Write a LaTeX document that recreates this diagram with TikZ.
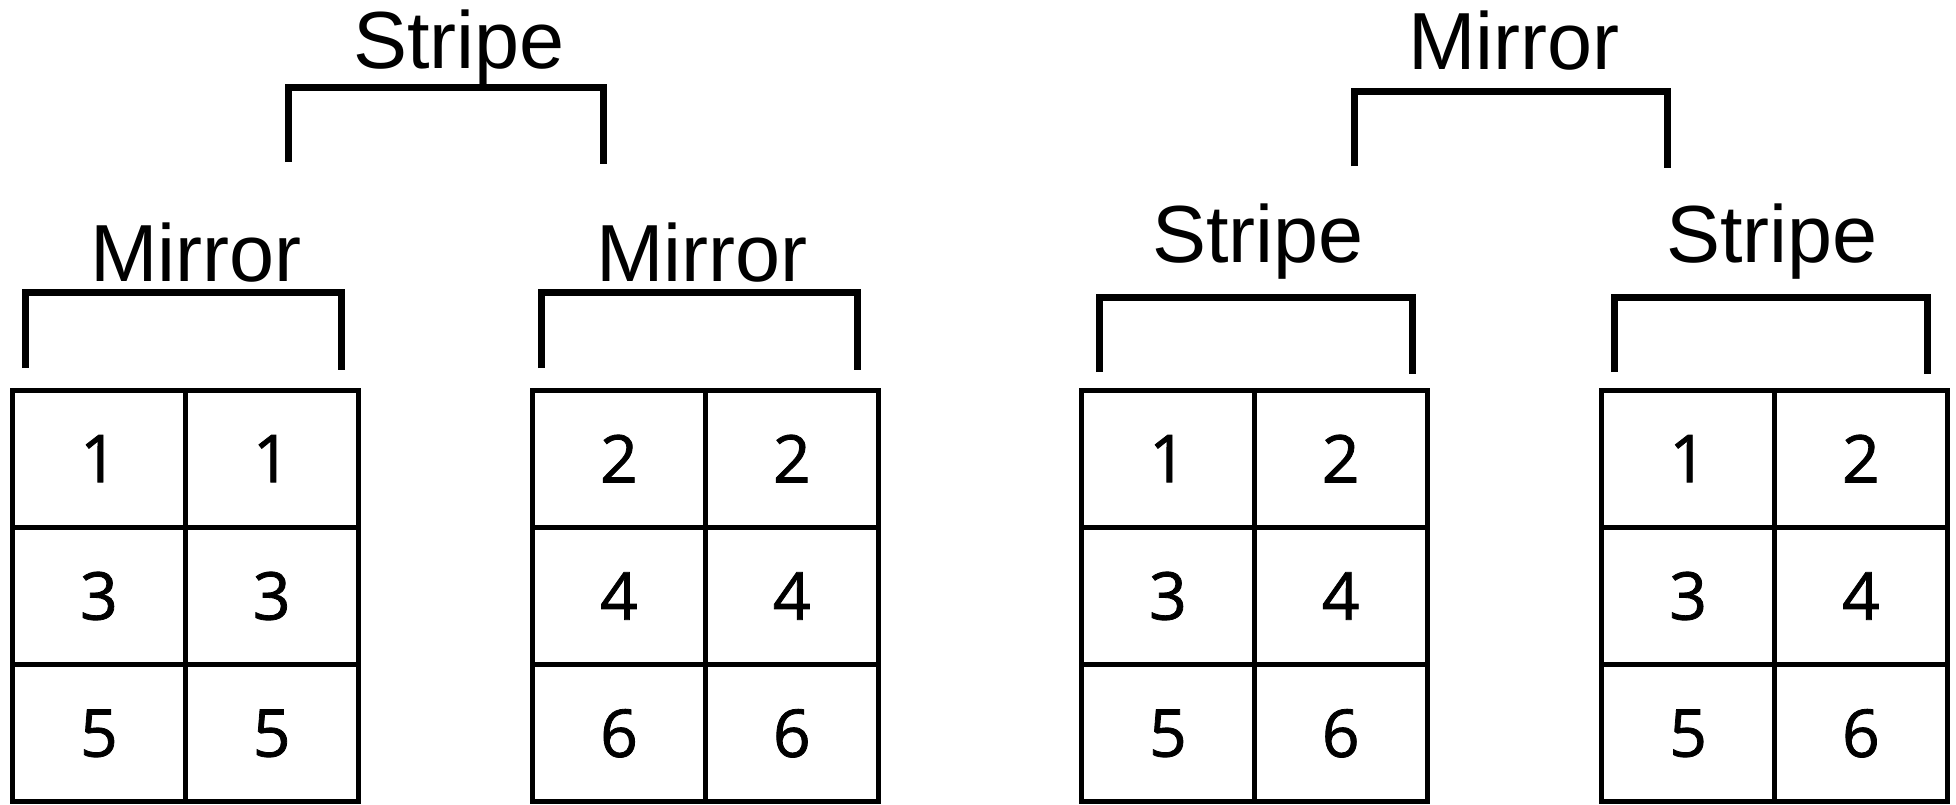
\documentclass[tikz,border=0pt]{standalone}
\usepackage{fontspec}
\setmainfont{Liberation Sans}
\newfontfamily\digitfont[FakeBold=1.2]{Open Sans}
\begin{document}
\begin{tikzpicture}[x=1pt,y=-1pt,
  lbl/.style={anchor=base,inner sep=0pt,font=\fontsize{81}{81}\selectfont},
  brk/.style={line width=7pt,line join=miter},
  cell/.style={draw,line width=5pt,minimum width=172.8pt,minimum height=137.3pt,inner sep=0pt,
    font=\digitfont\fontsize{66}{66}\selectfont}]
\useasboundingbox (0,0) rectangle (1956,804);
% labels
\node[lbl] (L0) at (459,68) {Stripe};
\node[lbl] (L1) at (196,281) {Mirror};
\node[lbl] (L2) at (702,281) {Mirror};
\node[lbl] (L3) at (1514,69) {Mirror};
\node[lbl] (L4) at (1258,262) {Stripe};
\node[lbl] (L5) at (1772,262) {Stripe};
% brackets
\draw[brk] (288,162) -- (288,87) -- (603,87) -- (603,164);
\draw[brk] (25,368) -- (25,292) -- (341,292) -- (341,370);
\draw[brk] (541,368) -- (541,292) -- (857,292) -- (857,370);
\draw[brk] (1354,166) -- (1354,91) -- (1667,91) -- (1667,168);
\draw[brk] (1099,372) -- (1099,297) -- (1412,297) -- (1412,374);
\draw[brk] (1614,372) -- (1614,297) -- (1927,297) -- (1927,374);
% tables
\foreach \name/\x/\a/\b/\c/\d/\e/\f in {
  A/12.5/1/1/3/3/5/5,
  B/532.6/2/2/4/4/6/6,
  C/1081.5/1/2/3/4/5/6,
  D/1601.7/1/2/3/4/5/6}{
  \node[cell] (\name11) at (\x+86.4,458.67) {\a};
  \node[cell] (\name12) at (\x+259.2,458.67) {\b};
  \node[cell] (\name21) at (\x+86.4,596) {\c};
  \node[cell] (\name22) at (\x+259.2,596) {\d};
  \node[cell] (\name31) at (\x+86.4,733.33) {\e};
  \node[cell] (\name32) at (\x+259.2,733.33) {\f};
}
\end{tikzpicture}
\end{document}
